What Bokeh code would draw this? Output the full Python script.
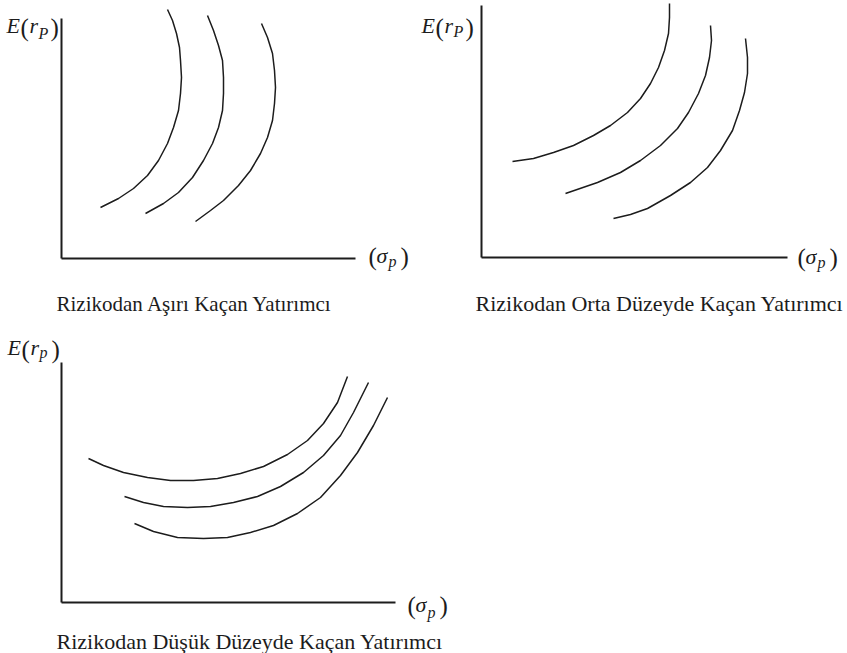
from bokeh.plotting import figure
from bokeh.models import Range1d, LinearAxis, FixedTicker, Label
from bokeh.layouts import column, row
from bokeh.embed import file_html
from bokeh.resources import INLINE

# ---------------- data (sigma_p vs E(r_p), arbitrary units) -------------
# Panel 1: Rizikodan Asiri Kacan Yatirimci (strongly risk averse)
p1_a_sigma = [106, 111, 115, 118, 119, 120, 119, 117, 112, 106, 97, 86, 72, 57, 39]
p1_a_ret = [249, 238, 225, 211, 198, 181, 165, 148, 131, 115, 98, 83, 70, 60, 51]
p1_b_sigma = [146, 152, 157, 161, 162, 162, 161, 157, 151, 142, 131, 117, 102, 84]
p1_b_ret = [243, 228, 213, 198, 181, 165, 148, 131, 115, 98, 81, 66, 55, 45]
p1_c_sigma = [200, 206, 211, 213, 214, 213, 211, 206, 199, 189, 177, 162, 149, 134]
p1_c_ret = [235, 221, 205, 188, 171, 155, 138, 121, 105, 88, 73, 58, 48, 37]

# Panel 2: Rizikodan Orta Duzeyde Kacan Yatirimci (moderately risk averse)
p2_a_sigma = [188, 188, 187, 183, 177, 169, 159, 146, 129, 112, 92, 72, 52, 31]
p2_a_ret = [254, 240, 224, 207, 190, 174, 159, 145, 132, 122, 112, 105, 99, 96]
p2_b_sigma = [229, 230, 228, 224, 217, 207, 196, 179, 159, 139, 116, 84]
p2_b_ret = [232, 217, 200, 182, 164, 145, 129, 112, 97, 85, 75, 64]
p2_c_sigma = [264, 266, 266, 263, 258, 251, 239, 226, 209, 189, 166, 149, 132]
p2_c_ret = [219, 200, 184, 165, 147, 127, 107, 90, 75, 62, 49, 43, 39]

# Panel 3: Rizikodan Dusuk Duzeyde Kacan Yatirimci (slightly risk averse)
p3_a_sigma = [27, 42, 62, 86, 109, 132, 156, 179, 202, 226, 246, 262, 276, 286]
p3_a_ret = [144, 137, 130, 125, 122, 122, 124, 129, 136, 148, 162, 179, 200, 226]
p3_b_sigma = [63, 82, 102, 126, 149, 172, 196, 219, 242, 262, 279, 292, 307]
p3_b_ret = [106, 100, 96, 95, 96, 100, 106, 116, 130, 147, 167, 190, 220]
p3_c_sigma = [73, 92, 116, 142, 166, 189, 212, 236, 259, 279, 296, 312, 326]
p3_c_ret = [79, 71, 65, 64, 65, 70, 77, 89, 105, 127, 150, 177, 205]

captions = [
    "Rizikodan Aşırı Kaçan Yatırımcı",
    "Rizikodan Orta Düzeyde Kaçan Yatırımcı",
    "Rizikodan Düşük Düzeyde Kaçan Yatırımcı",
]
y_title = ("E", "(", "r", ")")
x_title = ("(", "σ", ")")
subs = ["P", "P", "p"]

SERIF = "Liberation Serif"
INK = "#1c1c1c"


def make_panel(width, height, xr, yr, xb, yb):
    p = figure(width=width, height=height, x_range=Range1d(*xr), y_range=Range1d(*yr),
               x_axis_type=None, y_axis_type=None, output_backend="svg", toolbar_location=None,
               min_border=0)
    p.outline_line_color = None
    p.background_fill_color = "white"
    p.border_fill_color = "white"
    p.xgrid.visible = False
    p.ygrid.visible = False
    for loc, b in (("left", yb), ("below", xb)):
        ax = LinearAxis(ticker=FixedTicker(ticks=[]), bounds=b, fixed_location=0,
                        axis_line_color=INK, axis_line_width=2, major_tick_in=0,
                        major_tick_out=0, minor_tick_in=0, minor_tick_out=0,
                        major_label_text_font_size="0px")
        p.add_layout(ax, loc)
    return p


def put(p, conv, px, py, text, size, style="normal"):
    x, y = conv(px, py)
    p.add_layout(Label(x=x, y=y, text=text, text_font=SERIF, text_font_size=f"{size}px",
                       text_font_style=style, text_color=INK, text_baseline="alphabetic",
                       text_align="left"))


def titles(p, conv, ex, ey, sub, sub_dy, sx, sy, sub2_dy, cap, cx, cy, cap_size):
    # E(r_p)
    put(p, conv, ex, ey, y_title[0], 22, "italic")
    put(p, conv, ex + 14, ey + 2, y_title[1], 25)
    put(p, conv, ex + 23, ey, y_title[2], 22, "italic")
    put(p, conv, ex + 32, ey + sub_dy, sub, 16, "italic")
    put(p, conv, ex + 44, ey + 2, y_title[3], 25)
    # (sigma_p)
    put(p, conv, sx, sy + 1, x_title[0], 25)
    put(p, conv, sx + 8, sy, x_title[1], 22, "italic")
    put(p, conv, sx + 20, sy + sub2_dy, "p", 16, "italic")
    put(p, conv, sx + 32, sy + 1, x_title[2], 25)
    # caption
    put(p, conv, cx, cy, cap, cap_size)


def curves(p, pairs):
    for xs, ys in pairs:
        p.line(xs, ys, line_color=INK, line_width=1.5)


# Panel 1: canvas 0..420 x 0..318, axis origin at pixel (61, 258)
f1 = make_panel(420, 318, (-61, 359), (-60, 258), (0, 294), (0, 240))
c1 = lambda px, py: (px - 61, 258 - py)
curves(f1, [(p1_a_sigma, p1_a_ret), (p1_b_sigma, p1_b_ret), (p1_c_sigma, p1_c_ret)])
titles(f1, c1, 6, 25, subs[0], 8, 368, 255, 6, captions[0], 56, 303, 21)

# Panel 2: canvas 420..847 x 0..318, axis origin at pixel (481, 257)
f2 = make_panel(427, 318, (-61, 366), (-61, 257), (0, 306), (0, 252))
c2 = lambda px, py: (px - 481, 257 - py)
curves(f2, [(p2_a_sigma, p2_a_ret), (p2_b_sigma, p2_b_ret), (p2_c_sigma, p2_c_ret)])
titles(f2, c2, 421, 25, subs[1], 6, 797, 256, 6, captions[1], 475, 303, 22)

# Panel 3: canvas 0..470 x 318..653, axis origin at pixel (61, 602)
f3 = make_panel(470, 335, (-61, 409), (-51, 284), (0, 334), (0, 240))
c3 = lambda px, py: (px - 61, 602 - py)
curves(f3, [(p3_a_sigma, p3_a_ret), (p3_b_sigma, p3_b_ret), (p3_c_sigma, p3_c_ret)])
titles(f3, c3, 7, 347, subs[2], 5, 407, 604, 8, captions[2], 56, 641, 22)

layout = column(row(f1, f2), f3)
open("out.html", "w").write(file_html(layout, INLINE))
